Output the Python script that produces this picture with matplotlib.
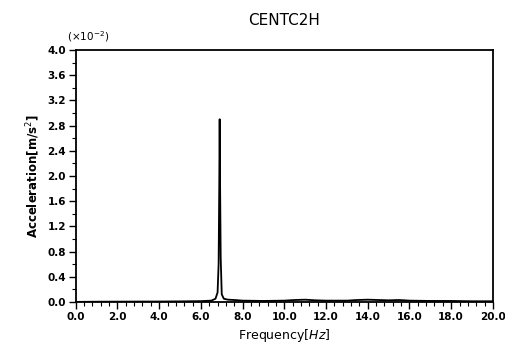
import numpy as np
import matplotlib.pyplot as plt
from matplotlib.ticker import MultipleLocator

# acceleration spectrum, values in units of 1e-2 m/s^2
freq = [0.0, 1.0, 2.0, 3.0, 4.0, 5.0, 6.0, 6.5, 6.7, 6.8, 6.85, 6.88, 6.9, 6.92,
        6.95, 7.0, 7.1, 7.3, 7.6, 8.0, 9.0, 10.0, 10.5, 11.0, 11.5, 12.0, 13.0,
        13.5, 14.0, 14.5, 15.0, 15.5, 16.0, 17.0, 18.0, 19.0, 20.0]
accel = [0.0, 0.003, 0.004, 0.005, 0.006, 0.008, 0.012, 0.02, 0.05, 0.15, 0.6, 1.8, 2.9, 1.9,
         0.7, 0.12, 0.05, 0.035, 0.03, 0.02, 0.015, 0.02, 0.03, 0.035, 0.025, 0.02, 0.02,
         0.03, 0.035, 0.03, 0.025, 0.03, 0.02, 0.015, 0.015, 0.01, 0.01]

fig = plt.figure(figsize=(5.05, 3.47), dpi=100)
ax = fig.add_axes([0.150, 0.130, 0.826, 0.726])
ax.plot(freq, accel, color='black', lw=1.3)

ax.set_xlim(0, 20)
ax.set_ylim(0, 4.0)
ax.xaxis.set_major_locator(MultipleLocator(2.0))
ax.xaxis.set_minor_locator(MultipleLocator(0.4))
ax.yaxis.set_major_locator(MultipleLocator(0.4))
ax.yaxis.set_minor_locator(MultipleLocator(0.2))
ax.xaxis.set_major_formatter(lambda v, p: '%.1f' % v)
ax.yaxis.set_major_formatter(lambda v, p: '%.1f' % v)
ax.tick_params(which='major', length=5, width=1.0, labelsize=7.5, pad=2)
ax.tick_params(which='minor', length=3, width=0.8)
for lab in ax.get_xticklabels() + ax.get_yticklabels():
    lab.set_fontweight('bold')
for s in ax.spines.values():
    s.set_linewidth(1.3)

ax.set_title('CENTC2H', fontsize=11, pad=18)
ax.set_xlabel('Frequency[$Hz$]', fontsize=9, labelpad=4)
ax.set_ylabel('Acceleration[m/s$^2$]', fontsize=8.5, fontweight='bold', labelpad=4)
ax.text(-0.02, 1.025, '(×10$^{-2}$)', transform=ax.transAxes, fontsize=7.5,
        ha='left', va='bottom')

fig.savefig('out.png', dpi=100)
